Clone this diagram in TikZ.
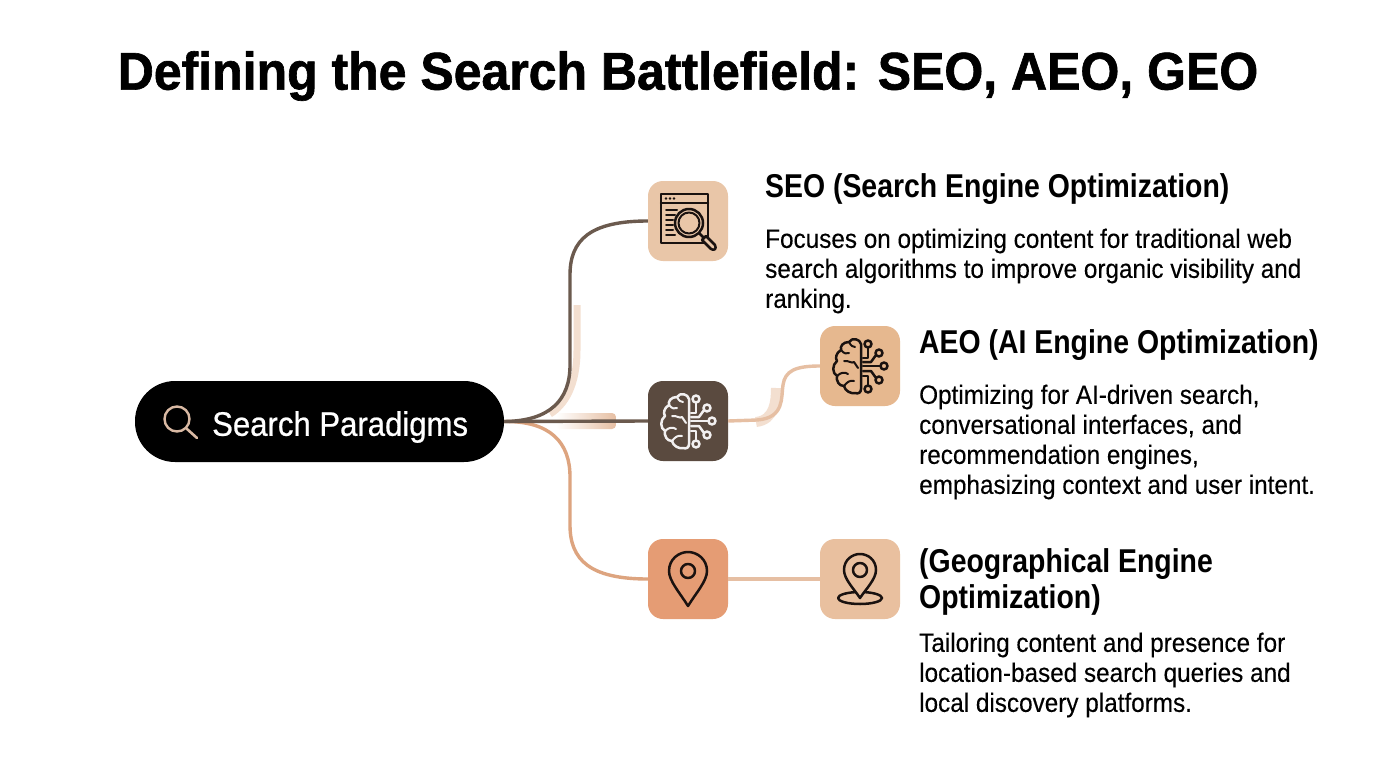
\documentclass[tikz,border=0pt]{standalone}
\usepackage{fontspec}
\setmainfont{Liberation Sans}
\newfontfamily\titlefont[FakeStretch=0.943,BoldFeatures={FakeBold=1.2}]{Liberation Sans}
\newfontfamily\headfont[FakeStretch=0.861]{Liberation Sans}
\newfontfamily\bodyfont[FakeStretch=0.917,FakeBold=0.25]{Liberation Sans}
\newfontfamily\pillfont[FakeStretch=0.915,FakeBold=0.6]{Liberation Sans}
\definecolor{inkbrown}{HTML}{6B5A4E}
\definecolor{darkbox}{HTML}{5A4A3F}
\definecolor{tanline}{HTML}{DDA47F}
\definecolor{paleline}{HTML}{E6BFA3}
\definecolor{ghostline}{HTML}{F3DFD0}
\definecolor{seobox}{HTML}{E9C6A8}
\definecolor{aibox}{HTML}{E6B88F}
\definecolor{pinbox}{HTML}{E59C74}
\definecolor{geobox}{HTML}{E9C09F}
\definecolor{glasstan}{HTML}{D9B9A3}
\definecolor{iconink}{HTML}{1A1210}
\tikzset{
  iconbox/.style={minimum size=80pt,inner sep=0pt,rounded corners=15pt},
  headtext/.style={anchor=west,inner sep=0pt,align=left,font=\headfont\bfseries\fontsize{33}{36}\selectfont},
  bodytext/.style={anchor=west,inner sep=0pt,align=left,font=\bodyfont\fontsize{26.5}{30}\selectfont},
  wire/.style={line width=3.4pt},
  glyph/.style={line width=2.5pt,line join=round,line cap=round},
  pics/brainicon/.style={code={
    \draw[glyph,#1] (1,-22) .. controls (0,-27) and (-8,-29) .. (-11,-24)
      .. controls (-17,-24) and (-20,-20) .. (-19,-16)
      .. controls (-24,-13) and (-25,-8) .. (-23,-5)
      .. controls (-28,-1) and (-28,7) .. (-23,10)
      .. controls (-24,15) and (-21,20) .. (-16,20)
      .. controls (-15,25) and (-9,28) .. (-5,27)
      .. controls (-2,28) and (1,27) .. (1,23) -- cycle;
    \draw[glyph,#1,line width=2pt] (-11,-24) .. controls (-9,-20) and (-7,-19) .. (-5,-19);
    \draw[glyph,#1,line width=2pt] (-19,-16) .. controls (-16,-12) and (-13,-12) .. (-11,-13);
    \draw[glyph,#1,line width=2pt] (-16,-5) .. controls (-12,-6) and (-8,-2) .. (-6,-4) -- (-2,2);
    \draw[glyph,#1,line width=2pt] (-23,10) .. controls (-19,6) and (-15,6) .. (-12,8);
    \draw[glyph,#1,line width=2pt] (-16,20) .. controls (-13,16) and (-10,14) .. (-6,15);
    \draw[glyph,#1] (3,-8)--(8,-8)--(8,-18);
    \draw[glyph,#1] (3,-4)--(11,-4)--(16,-11);
    \draw[glyph,#1] (3,0)--(20,0);
    \draw[glyph,#1] (3,5)--(11,5)--(16,12);
    \draw[glyph,#1] (3,10)--(8,10)--(8,19);
    \foreach \cx/\cy in {8/-22,19/-13,24/0,19/14,8/23}
      \draw[glyph,#1] (\cx,\cy) circle (3.5);
  }},
}
\begin{document}
\begin{tikzpicture}[x=1pt,y=-1pt]
\useasboundingbox (0,0) rectangle (1376,768);
\fill[white] (0,0) rectangle (1376,768);
%% title
\node (title) at (688,76) [inner sep=0pt,font=\titlefont\bfseries\fontsize{53}{56}\selectfont] {Defining the Search Battlefield: SEO, AEO, GEO};
%% the pill
\node (pill) at (319.5,421.5) [fill=black,minimum width=369pt,minimum height=81pt,inner sep=0pt,rounded corners=40pt] {};
\node (pilltext) at (212,427) [anchor=west,inner sep=0pt,text=white,font=\pillfont\fontsize{34}{36}\selectfont] {Search Paradigms};
\node (glass) at (177,419) [circle,draw=glasstan,line width=2.4pt,minimum size=25pt,inner sep=0pt] {};
\coordinate (glassend) at (197,438);
\draw[glasstan,line width=2.6pt,line cap=round] (glass.south east)--(glassend);
%% the icon boxes
\node (seo) at (688,221) [iconbox,fill=seobox] {};
\node (brain) at (688,421) [iconbox,fill=darkbox] {};
\node (ai) at (860,366) [iconbox,fill=aibox] {};
\node (pin) at (688,579) [iconbox,fill=pinbox] {};
\node (geo) at (860,579) [iconbox,fill=geobox] {};
%% pale smudges behind the wires
\draw[ghostline,line width=7pt] (577,305)--(577,350) .. controls (577,385) and (565,405) .. (550,414);
\shade[left color=white,right color=paleline,rounded corners=4pt] (556,413) rectangle (616,429);
\draw[ghostline,line width=10pt] (756,422) .. controls (775,420) and (776,400) .. (776,388);
%% the wires
\draw[wire,inkbrown] (pill.east) .. controls (550,421) and (570,400) .. (570,365) -- (570,275) .. controls (570,240) and (590,221) .. (seo.west);
\draw[wire,tanline] (pill.east) .. controls (550,421) and (570,442) .. (570,477) -- (570,525) .. controls (570,560) and (590,579) .. (pin.west);
\draw[wire,inkbrown] (pill.east)--(brain.west);
\draw[wire,paleline] (brain.east)--(757,420) .. controls (785,418) and (781,397) .. (783,385) .. controls (785,371) and (795,366) .. (ai.west);
\draw[wire,paleline] (pin.east)--(geo.west);
%% first icon, window and lens
\begin{scope}[shift={(seo.center)},iconink]
\draw[glyph] (-27,-27) rectangle (20,22);
\draw[glyph] (-27,-18)--(20,-18);
\foreach \dx in {-22,-18,-14}
  \fill (\dx,-22.5) circle (1.3);
\foreach \ly/\lw in {-11/-11,-6/-13,-1/-15,4/-15,9/-15,14/-13}
  \draw[glyph,line width=2pt] (-22,\ly)--(\lw,\ly);
\fill[seobox] (1,2) circle (15);
\draw[glyph] (1,2) circle (14);
\draw[glyph,line width=2pt] (1,2) circle (10.5);
\draw[glyph] (11.5,12.5)--(15,16);
\draw[glyph,fill=seobox] (14,19) -- (18,15) -- (27,24) .. controls (29,28) and (26,30) .. (23,28) -- cycle;
\end{scope}
%% brain icons
\pic at (brain.center) {brainicon={white!92!darkbox}};
\pic at (ai.center) {brainicon={iconink}};
%% pin icons
\begin{scope}[shift={(pin.center)},iconink]
\draw[glyph] (0,27) .. controls (-8,14) and (-19,2) .. (-19,-8) .. controls (-19,-20) and (-9,-27) .. (0,-27) .. controls (9,-27) and (19,-20) .. (19,-8) .. controls (19,2) and (8,14) .. (0,27) -- cycle;
\draw[glyph] (0,-8) circle (7);
\end{scope}
\begin{scope}[shift={(geo.center)},iconink]
\draw[glyph] (0,19) ellipse (22 and 6);
\draw[glyph,fill=geobox] (0,19) .. controls (-6,10) and (-16,0) .. (-16,-9) .. controls (-16,-19) and (-8,-25) .. (0,-25) .. controls (8,-25) and (16,-19) .. (16,-9) .. controls (16,0) and (6,10) .. (0,19) -- cycle;
\draw[glyph] (0,-9) circle (7);
\end{scope}
%% the texts
\node (seohead) at (765,189) [headtext] {SEO (Search Engine Optimization)};
\node (seobody) at (765,271) [bodytext] {Focuses on optimizing content for traditional web\\search algorithms to improve organic visibility and\\ranking.};
\node (aihead) at (919,345) [headtext] {AEO (AI Engine Optimization)};
\node (aibody) at (919,442) [bodytext] {Optimizing for AI-driven search,\\conversational interfaces, and\\recommendation engines,\\emphasizing context and user intent.};
\node (geohead) at (919,582) [headtext] {(Geographical Engine\\Optimization)};
\node (geobody) at (919,675) [bodytext] {Tailoring content and presence for\\location-based search queries and\\local discovery platforms.};
\end{tikzpicture}
\end{document}
